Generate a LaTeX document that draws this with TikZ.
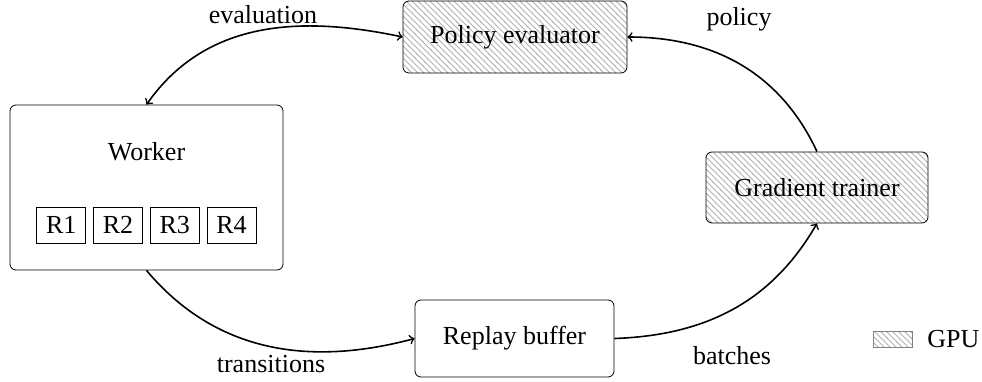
\documentclass[tikz,border=0pt]{standalone}
\usepackage{fontspec}
\setmainfont{Liberation Serif}
\usetikzlibrary{patterns}
\tikzset{
  box/.style={draw, rounded corners=3pt, align=center},
  gpu/.style={pattern=north west lines, pattern color=gray!60},
  rbox/.style={draw, minimum width=24.5pt, minimum height=18pt, inner sep=1pt},
  flow/.style={->, thick}
}
\begin{document}
\begin{tikzpicture}[x=0.5pt, y=-0.5pt, font=\fontsize{13}{15.6}\selectfont]
\useasboundingbox (0,0) rectangle (982,381);
% boxes
\node [box, gpu, minimum width=112pt, minimum height=36pt] (evaluator) at (515,37) {Policy evaluator};
\node [box, minimum width=136.5pt, minimum height=82.5pt] (worker) at (146.5,187.5) {};
\node (workerlabel) at (146.5,152) {Worker};
\foreach \i in {1,...,4}
  \node [rbox] (r\i) at (4.5+56.75*\i,225) {R\i};
\node [box, gpu, minimum width=111pt, minimum height=35.5pt] (trainer) at (817,187.5) {Gradient trainer};
\node [box, minimum width=99.5pt, minimum height=38.5pt] (buffer) at (514.5,338.5) {Replay buffer};
% connectors
\draw [flow, <->] (worker.north) to [out=55, in=168] (evaluator.west);
\draw [flow] (trainer.north) to [out=115, in=0] (evaluator.east);
\draw [flow] (worker.south) to [out=-50, in=195] (buffer.west);
\draw [flow] (buffer.east) to [out=2, in=240] (trainer.south);
% labels
\node (evallabel) at (263,15) {evaluation};
\node (policylabel) at (739,19) {policy};
\node (translabel) at (271,364) {transitions};
\node (batchlabel) at (732,356) {batches};
% legend
\node [draw=gray, gpu, minimum width=19.5pt, minimum height=8pt, inner sep=0pt] (legend) at (892.5,339) {};
\node [right, inner sep=0pt] (legendlabel) at (927,339) {GPU};
\end{tikzpicture}
\end{document}
